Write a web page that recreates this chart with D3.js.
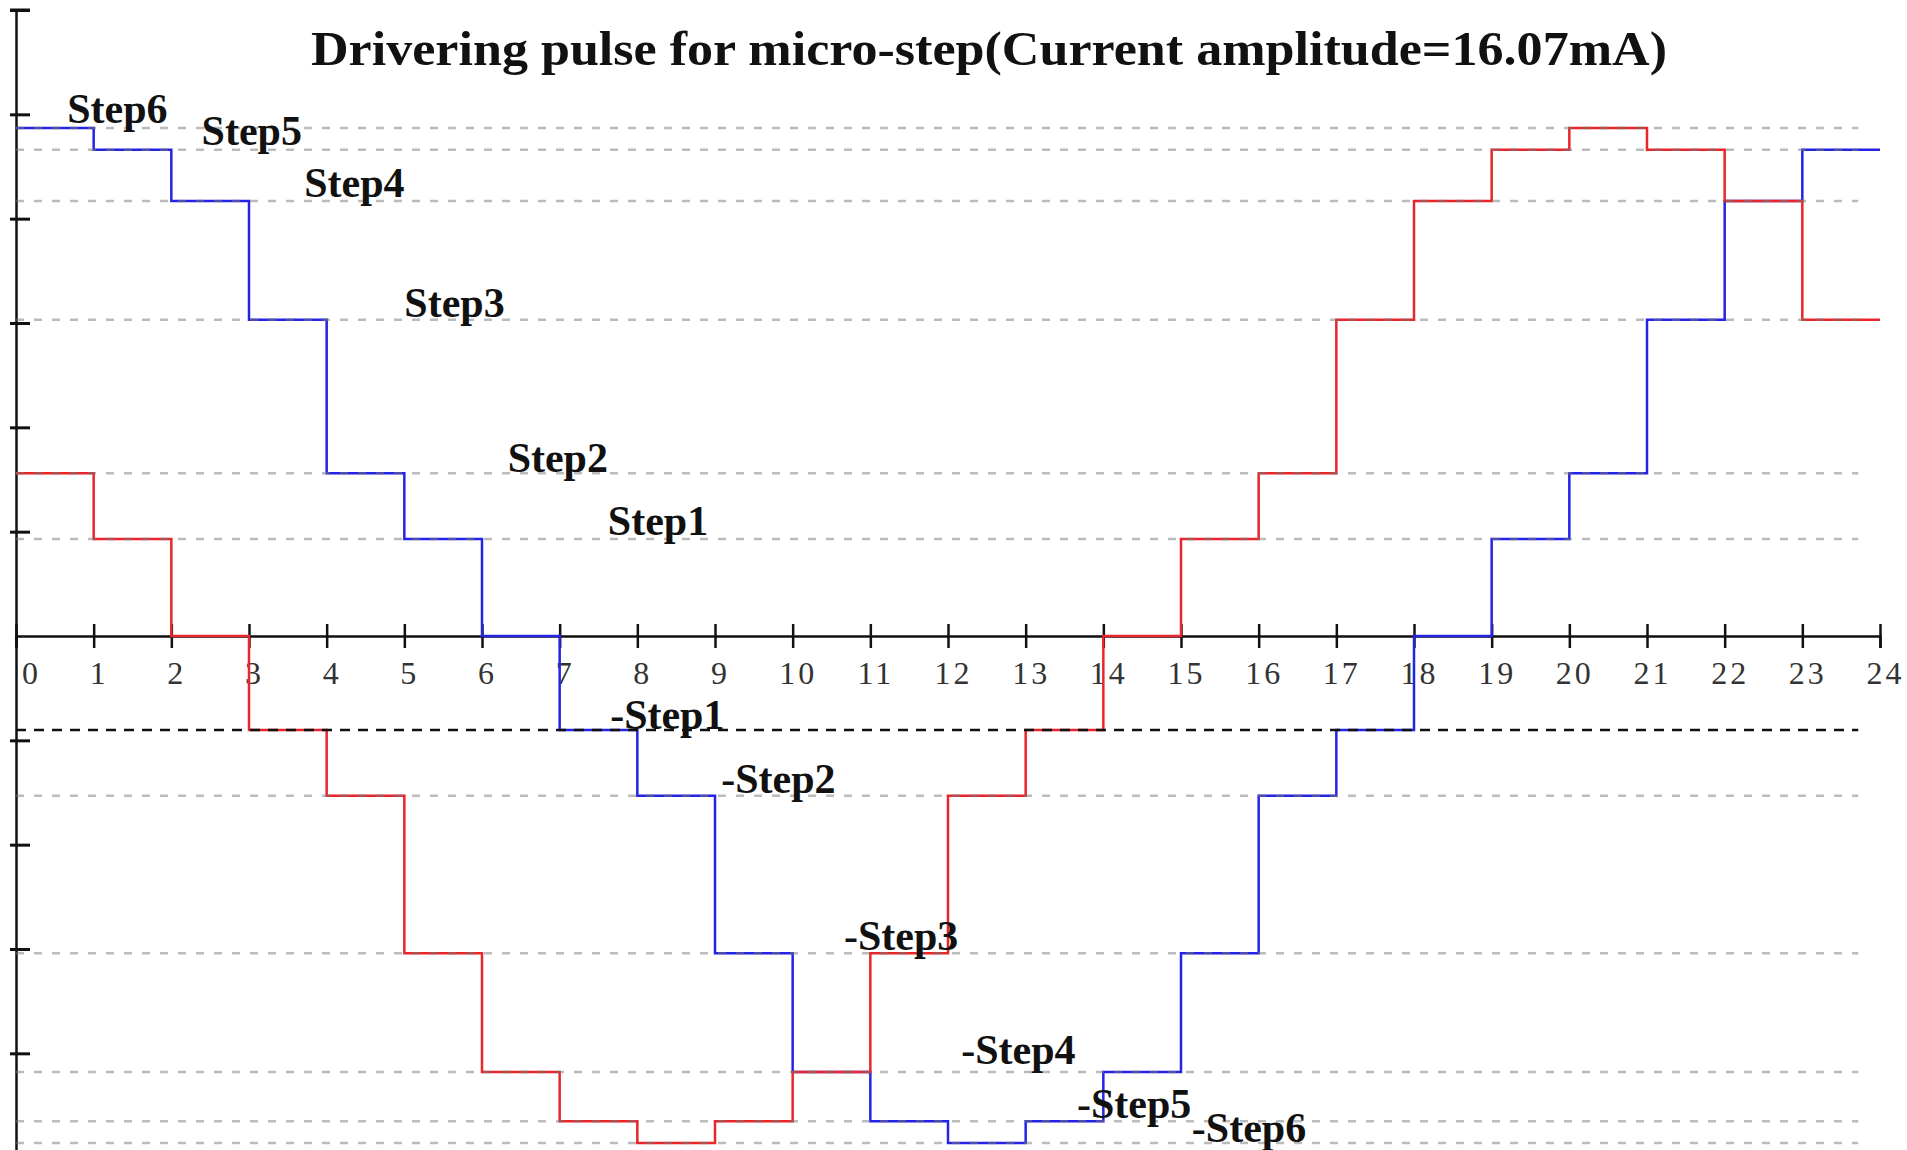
<!DOCTYPE html>
<html>
<head>
<meta charset="utf-8">
<script src="https://cdn.jsdelivr.net/npm/d3@7"></script>
<style>
body { margin: 0; background: #fff; }
svg { display: block; background: #fff; }
.serif { font-family: "Liberation Serif", "Times New Roman", serif; }
</style>
</head>
<body>
<svg id="chart" width="1907" height="1150"></svg>
<script>
// values are in y-tick units (one tick = one unit), x is the step index
const timeTicks = [0, 1, 2, 3, 4, 5, 6, 7, 8, 9, 10, 11, 12, 13, 14, 15, 16, 17, 18, 19, 20, 21, 22, 23, 24];
const levelTicks = [-4, -3, -2, -1, 1, 2, 3, 4, 5, 6];

const blueCurrent = [4.87, 4.66, 4.17, 3.03, 1.56, 0.93, 0, -0.90, -1.53, -3.04, -4.18, -4.65,
                     -4.86, -4.65, -4.18, -3.04, -1.53, -0.90, 0, 0.93, 1.56, 3.03, 4.17, 4.66];
const redCurrent = [1.56, 0.93, 0, -0.90, -1.53, -3.04, -4.18, -4.65, -4.86, -4.65, -4.18, -3.04,
                    -1.53, -0.90, 0, 0.93, 1.56, 3.03, 4.17, 4.66, 4.87, 4.66, 4.17, 3.03];

const stepNames = ["Step6", "Step5", "Step4", "Step3", "Step2", "Step1",
                   "-Step1", "-Step2", "-Step3", "-Step4", "-Step5", "-Step6"];
const stepLevels = [4.87, 4.66, 4.17, 3.03, 1.56, 0.93, -0.90, -1.53, -3.04, -4.18, -4.65, -4.86];
// where each step name sits (x in steps, y in tick units)
const labelT = [0.66, 2.39, 3.71, 5.0, 6.33, 7.62, 7.65, 9.08, 10.66, 12.17, 13.66, 15.14];
const labelV = [4.92, 4.71, 4.21, 3.06, 1.57, 0.97, -0.89, -1.50, -3.01, -4.10, -4.62, -4.85];

const gridEnd = 23.72;
const titleText = "Drivering pulse for micro-step(Current amplitude=16.07mA)";

const svg = d3.select("#chart");

const x = d3.scaleLinear().domain([0, 24]).range([16, 1880]);
const y = d3.scaleLinear().domain([-6, 6]).range([1262, 10]);

// y axis, ticks cross the line
const yAxis = svg.append("g")
    .attr("transform", "translate(" + x(0) + ",0)")
    .call(d3.axisRight(y).tickValues(levelTicks).tickSizeOuter(0).tickSize(14).tickFormat(""));
yAxis.select(".domain").attr("stroke", "#111").attr("stroke-width", 2.5);
yAxis.selectAll(".tick line").attr("x1", -6).attr("x2", 14).attr("stroke", "#111").attr("stroke-width", 3);
// top end cap
yAxis.append("line").attr("x1", -6).attr("x2", 14).attr("y1", y(6)).attr("y2", y(6))
    .attr("stroke", "#111").attr("stroke-width", 3);

// x axis through zero
const xAxis = svg.append("g")
    .attr("transform", "translate(0," + y(0) + ")")
    .call(d3.axisBottom(x).tickValues(timeTicks).tickSizeOuter(0).tickSize(12));
xAxis.select(".domain").attr("stroke", "#111").attr("stroke-width", 2.5);
xAxis.selectAll(".tick line").attr("y1", -12).attr("y2", 12).attr("stroke", "#111").attr("stroke-width", 2.5);
xAxis.selectAll(".tick text")
    .attr("class", "serif")
    .attr("y", 48).attr("dy", null)
    .attr("dx", d => d === 0 ? 15 : 5)
    .attr("fill", "#333")
    .style("font-size", "32px")
    .style("letter-spacing", "3px");

// step curves
const stepLine = d3.line()
    .x(d => x(d[0]))
    .y(d => y(d[1]))
    .curve(d3.curveStepAfter);

function toPoints(vals) {
    const pts = vals.map((v, i) => [i, v]);
    pts.push([vals.length, vals[vals.length - 1]]);
    return pts;
}

svg.append("path")
    .attr("d", stepLine(toPoints(blueCurrent)))
    .attr("fill", "none")
    .attr("stroke", "#2424e6")
    .attr("stroke-width", 2.5);

svg.append("path")
    .attr("d", stepLine(toPoints(redCurrent)))
    .attr("fill", "none")
    .attr("stroke", "#e8262c")
    .attr("stroke-width", 2.5);

// dashed level lines drawn over the curves
svg.append("g").selectAll("line")
    .data(stepLevels)
    .enter()
    .append("line")
    .attr("x1", x(0)).attr("x2", x(gridEnd))
    .attr("y1", d => y(d)).attr("y2", d => y(d))
    .attr("stroke", (d, i) => i === 6 ? "#111" : "rgba(120,120,120,0.5)")
    .attr("stroke-width", 2.5)
    .attr("stroke-dasharray", (d, i) => i === 6 ? "10,8" : "8,10");

// step names
svg.append("g").selectAll("text")
    .data(stepNames)
    .enter()
    .append("text")
    .attr("class", "serif")
    .attr("x", (d, i) => x(labelT[i]))
    .attr("y", (d, i) => y(labelV[i]))
    .attr("fill", "#111")
    .style("font-size", "42px")
    .style("font-weight", "bold")
    .text(d => d);

// title
svg.append("text")
    .attr("class", "serif")
    .attr("x", 311)
    .attr("y", 65)
    .attr("textLength", 1356)
    .attr("lengthAdjust", "spacingAndGlyphs")
    .attr("fill", "#111")
    .style("font-size", "49px")
    .style("font-weight", "bold")
    .text(titleText);
</script>
</body>
</html>
